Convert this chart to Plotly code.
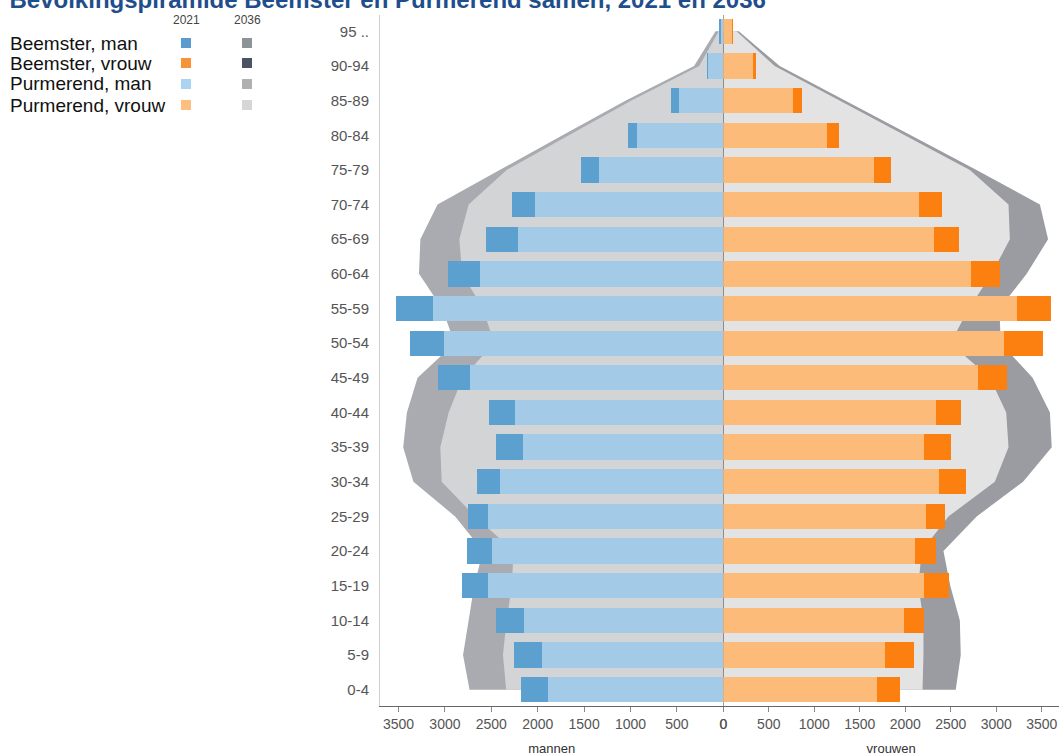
import plotly.graph_objects as go

# ---------------- data ----------------
ages = ["0-4", "5-9", "10-14", "15-19", "20-24", "25-29", "30-34", "35-39", "40-44",
        "45-49", "50-54", "55-59", "60-64", "65-69", "70-74", "75-79", "80-84",
        "85-89", "90-94", "95 .."]

# 2021 (bars)
man_purmerend_2021 = [1885, 1955, 2145, 2535, 2490, 2535, 2410, 2155, 2245, 2735,
                      3015, 3130, 2620, 2215, 2030, 1340, 925, 480, 165, 35]
man_beemster_2021 = [300, 300, 300, 285, 275, 215, 250, 295, 275, 345,
                     360, 395, 345, 340, 245, 190, 100, 80, 10, 5]
vrouw_purmerend_2021 = [1695, 1780, 1990, 2210, 2105, 2230, 2370, 2210, 2345, 2800,
                        3090, 3235, 2725, 2315, 2150, 1655, 1145, 770, 335, 100]
vrouw_beemster_2021 = [250, 315, 220, 270, 235, 215, 300, 300, 270, 320,
                       430, 365, 320, 280, 260, 195, 135, 95, 30, 8]

# 2036 (areas)
man_purmerend_2036 = [2340, 2375, 2335, 2280, 2260, 2675, 3035, 3050, 2960, 2810,
                      2470, 2590, 2815, 2845, 2745, 2335, 1665, 990, 260, 48]
man_beemster_2036 = [395, 430, 410, 405, 330, 215, 305, 400, 450, 485,
                     425, 440, 465, 420, 335, 75, 68, 60, 55, 36]
vrouw_purmerend_2036 = [2190, 2200, 2200, 2145, 2180, 2475, 2985, 3135, 3110, 2930,
                        2495, 2700, 2950, 3150, 3135, 2710, 1995, 1280, 565, 145]
vrouw_beemster_2036 = [365, 410, 400, 350, 240, 310, 310, 475, 480, 470,
                       555, 335, 385, 420, 345, 73, 66, 62, 55, 25]

xticks = [0, 500, 1000, 1500, 2000, 2500, 3000, 3500]

legend_rows = ["Beemster, man", "Beemster, vrouw", "Purmerend, man", "Purmerend, vrouw"]
legend_years = ["2021", "2036"]

# ---------------- styling ----------------
W, H = 1059, 756
ML, MR, MT, MB = 0, 0, 15, 50
PW, PH = W - ML - MR, H - MT - MB

C_PM = "#a3cbe8"   # Purmerend man 2021
C_BM = "#5ba0cf"   # Beemster man 2021
C_PV = "#fdbb7a"   # Purmerend vrouw 2021
C_BV = "#fc800f"   # Beemster vrouw 2021
C_PM36 = "#d3d4d6"
C_BM36 = "#a9abb0"
C_PV36 = "#e3e3e3"
C_BV36 = "#9a9ca1"

legend_colors = [["#5b9bd0", "#8d9497"],
                 ["#f7943a", "#4b5262"],
                 ["#aad4ef", "#aeb0b2"],
                 ["#fdbf80", "#d6d6d6"]]

def px_x(p):
    return (p - ML) / PW

def px_y(p):
    return 1 - (p - MT) / PH

ypos = list(range(len(ages)))
YR = [-0.47, 19.47]
XMAX_L = 3700
XMAX_R = 3690
zero_frac = px_x(723.3)

fig = go.Figure()

man_total_2036 = [a + b for a, b in zip(man_purmerend_2036, man_beemster_2036)]
vrouw_total_2036 = [a + b for a, b in zip(vrouw_purmerend_2036, vrouw_beemster_2036)]

# 2036 areas (behind, base subplots)
fig.add_trace(go.Scatter(x=man_total_2036, y=ypos, xaxis="x", yaxis="y", mode="lines",
                         line=dict(width=0), fill="tozerox", fillcolor=C_BM36,
                         hoverinfo="skip", showlegend=False))
fig.add_trace(go.Scatter(x=man_purmerend_2036, y=ypos, xaxis="x", yaxis="y", mode="lines",
                         line=dict(width=0), fill="tozerox", fillcolor=C_PM36,
                         hoverinfo="skip", showlegend=False))
fig.add_trace(go.Scatter(x=vrouw_total_2036, y=ypos, xaxis="x2", yaxis="y2", mode="lines",
                         line=dict(width=0), fill="tozerox", fillcolor=C_BV36,
                         hoverinfo="skip", showlegend=False))
fig.add_trace(go.Scatter(x=vrouw_purmerend_2036, y=ypos, xaxis="x2", yaxis="y2", mode="lines",
                         line=dict(width=0), fill="tozerox", fillcolor=C_PV36,
                         hoverinfo="skip", showlegend=False))

# zero reference line
fig.add_trace(go.Scatter(x=[0, 0], y=YR, xaxis="x2", yaxis="y2", mode="lines",
                         line=dict(color="#555555", width=1), hoverinfo="skip",
                         showlegend=False, cliponaxis=False))

# 2021 bars (overlay subplots, drawn on top)
BW = 0.73
fig.add_trace(go.Bar(x=man_purmerend_2021, y=ypos, orientation="h", width=BW,
                     marker=dict(color=C_PM, line=dict(width=0)), xaxis="x", yaxis="y3",
                     name="Purmerend, man", showlegend=False))
fig.add_trace(go.Bar(x=man_beemster_2021, y=ypos, orientation="h", width=BW,
                     marker=dict(color=C_BM, line=dict(width=0)), xaxis="x", yaxis="y3",
                     name="Beemster, man", showlegend=False))
fig.add_trace(go.Bar(x=vrouw_purmerend_2021, y=ypos, orientation="h", width=BW,
                     marker=dict(color=C_PV, line=dict(width=0)), xaxis="x2", yaxis="y4",
                     name="Purmerend, vrouw", showlegend=False))
fig.add_trace(go.Bar(x=vrouw_beemster_2021, y=ypos, orientation="h", width=BW,
                     marker=dict(color=C_BV, line=dict(width=0)), xaxis="x2", yaxis="y4",
                     name="Beemster, vrouw", showlegend=False))

FONT = "Liberation Sans, Arial, sans-serif"
tickfont_y = dict(family=FONT, size=15, color="#555555")
tickfont_x = dict(family=FONT, size=14, color="#555555")
titlefont = dict(family=FONT, size=13, color="#333333")

xcommon = dict(showgrid=False, zeroline=False, showline=True, linecolor="#666666",
               linewidth=1, ticks="outside", ticklen=5, tickcolor="#888888",
               tickvals=xticks, ticktext=[str(v) for v in xticks], tickfont=tickfont_x,
               fixedrange=True, automargin=False)
yhidden = dict(range=YR, visible=False, showgrid=False, zeroline=False, fixedrange=True)

fig.update_layout(
    width=W, height=H, autosize=False,
    margin=dict(l=ML, r=MR, t=MT, b=MB),
    paper_bgcolor="white", plot_bgcolor="rgba(0,0,0,0)",
    barmode="stack", bargap=0,
    showlegend=False,
    title=dict(text="<b>Bevolkingspiramide Beemster en Purmerend samen, 2021 en 2036</b>",
               x=0.009, xref="container", xanchor="left",
               y=1.0, yref="container", yanchor="middle",
               font=dict(family=FONT, size=24, color="#1f4e8c"), automargin=False),
    xaxis=dict(domain=[px_x(380), zero_frac], range=[XMAX_L, 0], anchor="y",
               title=dict(text="mannen", font=titlefont, standoff=14), **xcommon),
    xaxis2=dict(domain=[zero_frac, 1.0], range=[0, XMAX_R], anchor="y2",
                title=dict(text="vrouwen", font=titlefont, standoff=14), **xcommon),
    yaxis=dict(domain=[0, 1], range=YR, anchor="x", tickvals=ypos, ticktext=ages,
               showgrid=False, zeroline=False, showline=True, linecolor="#cfcfcf",
               ticks="", ticklabelstandoff=7, tickfont=tickfont_y, fixedrange=True,
               automargin=False),
    yaxis2=dict(domain=[0, 1], range=YR, anchor="x2", showticklabels=False,
                showgrid=False, zeroline=False, showline=False, ticks="", fixedrange=True),
    yaxis3=dict(overlaying="y", anchor="x", **yhidden),
    yaxis4=dict(overlaying="y2", anchor="x2", **yhidden),
)

# custom legend
legfont = dict(family=FONT, size=19, color="#111111")
hdrfont = dict(family=FONT, size=12, color="#444444")
col_x = [186, 247]
row_y = [43, 63, 84, 105]
annotations = []
shapes = []
for j, yr in enumerate(legend_years):
    annotations.append(dict(text=yr, x=px_x(col_x[j]), y=px_y(20), xref="paper", yref="paper",
                            xanchor="center", yanchor="middle", showarrow=False, font=hdrfont))
for i, lab in enumerate(legend_rows):
    annotations.append(dict(text=lab, x=px_x(8), y=px_y(row_y[i]), xref="paper", yref="paper",
                            xanchor="left", yanchor="middle", showarrow=False, font=legfont))
    for j in range(2):
        cx, cy = col_x[j], row_y[i]
        shapes.append(dict(type="rect", xref="paper", yref="paper",
                           x0=px_x(cx - 5), x1=px_x(cx + 5), y0=px_y(cy + 5), y1=px_y(cy - 5),
                           fillcolor=legend_colors[i][j], line=dict(width=0)))
fig.update_layout(annotations=annotations, shapes=shapes)

fig.write_html("out.html", config={"displayModeBar": False},
               post_script="document.body.style.margin='0px';")
